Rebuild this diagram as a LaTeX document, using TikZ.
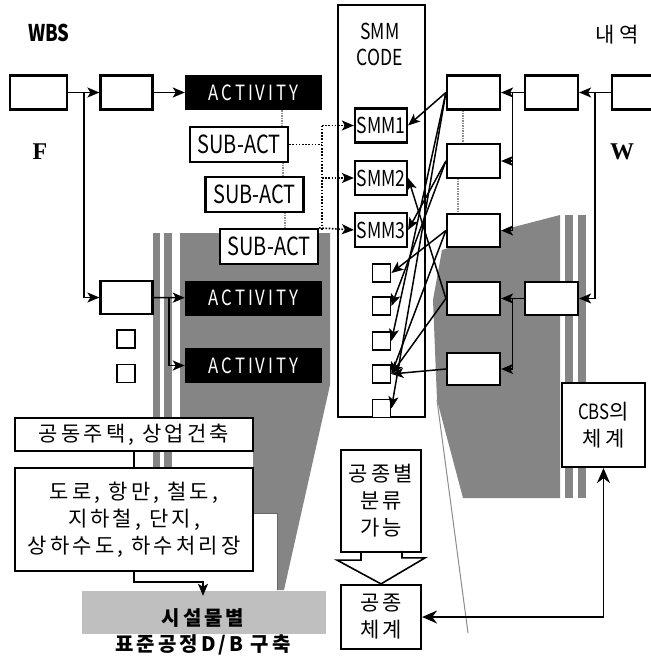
\documentclass[tikz,border=0pt]{standalone}
\usepackage{fontspec}
\usepackage{tikz}
\usetikzlibrary{arrows.meta,calc}
\newfontfamily\kr[LetterSpace=15]{Noto Sans CJK KR}
\newfontfamily\krl[LetterSpace=20]{Noto Sans CJK KR}
\newfontfamily\krn[FakeStretch=0.8]{Noto Sans CJK KR}
\newfontfamily\krs[FakeStretch=0.8,LetterSpace=14]{Noto Sans CJK KR}
\newfontfamily\tms{Liberation Serif}

\begin{document}
\begin{tikzpicture}[x=1pt,y=-1pt,>={Stealth[length=12pt,width=10pt,inset=3pt]},
  box/.style={draw,fill=white,line width=2.2pt,inner sep=0pt,minimum width=52pt,minimum height=34pt},
  act/.style={fill=black,text=white,inner sep=0pt,minimum width=137pt,minimum height=35pt,font=\krs\fontsize{21}{21}\selectfont},
  sub/.style={box,minimum width=98pt,minimum height=35pt,font=\krn\fontsize{25}{25}\selectfont},
  smm/.style={box,font=\krn\fontsize{22}{22}\selectfont},
  sq/.style={box,minimum width=18pt,minimum height=18pt,line width=1.8pt},
  kbox/.style={box,align=center,font=\kr\fontsize{21}{27}\selectfont},
  arr/.style={->,line width=1.6pt},
  link/.style={line width=1.6pt},
  dot/.style={line width=1.6pt,dash pattern=on 1.6pt off 1.6pt},
  shade/.style={fill=black!48},
  speck/.style={draw=black!45,line width=2.5pt,dash pattern=on 1.5pt off 1pt}]
  \useasboundingbox (0,0) rectangle (651,657);
  \fill[white] (0,0) rectangle (651,657);
  % gray parts of the scan
  \fill[shade] (180,233) -- (330,233) -- (330,385) -- (284,590) -- (277,590) -- (277,513) -- (253,513) -- (253,450) -- (180,450) -- cycle;
  \fill[shade] (153,233) rectangle (160,468);
  \fill[shade] (164,233) rectangle (172,468);
  \fill[black!25] (82,591) rectangle (326,634);
  \fill[shade] (442,250) -- (510,228) -- (560,215) -- (560,498) -- (463,498) -- (437,400) -- (433,300) -- cycle;
  \fill[shade] (565,215) rectangle (573,498);
  \fill[shade] (578,215) rectangle (586,498);
  \draw[black!45,line width=1pt] (437,400) -- (468,633);
  \draw[black!60,line width=1pt] (253,513) -- (277,513) -- (277,590);
  \draw[speck] (282,110) -- (282,127);
  \draw[speck] (283,162) -- (283,177);
  \draw[speck] (285,212) -- (285,229);
  \draw[speck] (463,110) -- (463,144);
  \draw[speck] (458,178) -- (458,214);

  \node[font=\krn\bfseries\fontsize{23}{23}\selectfont] (wbs) at (49,33) {WBS};
  \node[font=\tms\bfseries\fontsize{24}{24}\selectfont] (fl) at (40,152) {F};
  \node[font=\tms\bfseries\fontsize{24}{24}\selectfont] (wl) at (622,152) {W};
  \node[font=\krl\fontsize{21}{21}\selectfont] (nl) at (617,35) {내역};

  \node[box,minimum width=57pt] (wb0) at (38.5,92.5) {};
  \node[box] (wb1) at (126.5,92.5) {};
  \node[act] (act0) at (253.5,92.5) {ACTIVITY};
  \node[sub] (sub0) at (239,144.5) {SUB-ACT};
  \node[sub] (sub1) at (254.5,194.5) {SUB-ACT};
  \node[sub] (sub2) at (269,246.5) {SUB-ACT};
  \node[box,minimum height=33pt] (wb2) at (126.5,297.5) {};
  \node[act] (act1) at (253.5,298) {ACTIVITY};
  \node[act] (act2) at (253.5,365.5) {ACTIVITY};
  \node[sq] (lq0) at (126,339) {};
  \node[sq] (lq1) at (126,373.5) {};

  \node[box,minimum width=87pt,minimum height=412pt] (code) at (381.5,211) {};
  \node[align=center,font=\krn\fontsize{22}{26}\selectfont] (codet) at (380,44) {SMM\\CODE};
  \node[smm] (smm1) at (381,125.5) {SMM1};
  \node[smm] (smm2) at (381,178) {SMM2};
  \node[smm] (smm3) at (381,230) {SMM3};
  \foreach \y [count=\i from 0] in {273,306,341,374,408.5}
    \node[sq] (q\i) at (381.5,\y) {};

  \node[box,minimum width=53pt] (bd0) at (473.5,92.5) {};
  \node[box,minimum width=53pt] (bd1) at (551.5,92.5) {};
  \node[box] (bd2) at (638,92.5) {};
  \node[box,minimum width=53pt] (bd3) at (473.5,161) {};
  \node[box,minimum width=53pt,minimum height=33pt] (bd4) at (473.5,230.5) {};
  \node[box,minimum width=53pt,minimum height=33pt] (bd5) at (473.5,298.5) {};
  \node[box,minimum width=53pt,minimum height=32pt] (bd6) at (473.5,369) {};
  \node[box,minimum width=53pt,minimum height=33pt] (bd7) at (551.5,298.5) {};
  \node[kbox,minimum width=83pt,minimum height=84pt] (cbs) at (603.5,425) {{\krn CBS}의\\체계};

  \node[kbox,minimum width=80pt,minimum height=102pt] (cls) at (381,501) {공종별\\분류\\가능};
  \node[kbox,minimum width=80pt,minimum height=64pt] (wt) at (381,617) {공종\\체계};

  \node[kbox,minimum width=238pt,minimum height=33pt] (fac0) at (134,434.5) {공동주택, 상업건축};
  \node[kbox,minimum width=238pt,minimum height=103pt] (fac1) at (134,519.5) {도로, 항만, 철도,\\지하철, 단지,\\상하수도, 하수처리장};
  \node[align=center,minimum height=72pt,font=\kr\bfseries\fontsize{20}{26}\selectfont] (db) at (203,632) {시설물별\\표준공정D/B 구축};

  \draw[arr] (wb0) -- (wb1);
  \draw[arr] ($(wb0.east)!.5!(wb1.west)$) |- (wb2);
  \draw[arr] (wb1) -- (act0);
  \draw[arr] (wb2) -- (act1);
  \draw[arr] ($(wb2.east)!.5!(act1.west)$) |- (act2);

  \coordinate (bt) at (322,125.5);
  \coordinate (bb) at (322,230);
  \draw[dot] (sub0) -- (sub0 -| bt);
  \draw[dot] (bt) -- (bb);
  \draw[dot,->] (bt) -- (smm1);
  \draw[dot,->] (smm2 -| bt) -- (smm2);
  \draw[dot,->] (sub2.north east) -- (smm3.west);

  \draw[arr] (bd2) -- (bd1);
  \draw[arr] ($(bd1.east)!.5!(bd2.west)$) |- (bd7);
  \draw[arr] (bd1) -- (bd0);
  \draw[arr] ($(bd0.east)!.5!(bd1.west)$) |- (bd3);
  \draw[arr] ($(bd0.east)!.5!(bd1.west)$) |- (bd4);
  \draw[arr] (bd7) -- (bd5);
  \draw[arr] ($(bd5.east)!.5!(bd7.west)$) |- (bd6);
  \foreach \a/\b in {bd0/smm1,bd0/q2,bd0/q4,bd3/smm3,bd3/q1,bd4/q0,bd4/q3,bd5/smm2,bd5/q3,bd6/q3}
    \draw[arr,line width=1.5pt] (\a.west) -- (\b.east);

  \draw[link] (fac0) -- (fac1);
  \draw[arr] (fac1.south) -- ++(0,10) -| (db.north);
  \draw[link] ([xshift=-20pt]cls.south) -- ++(0,7) -- ++(-24,0) -- (wt.north) -- ++(44,-26) -- ++(-23,0) -- ++(0,-7);
  \draw[line width=1.6pt,{Stealth[length=15pt,width=13pt]}-{Stealth[length=15pt,width=13pt]}] (wt) -| (cbs);
\end{tikzpicture}
\end{document}
